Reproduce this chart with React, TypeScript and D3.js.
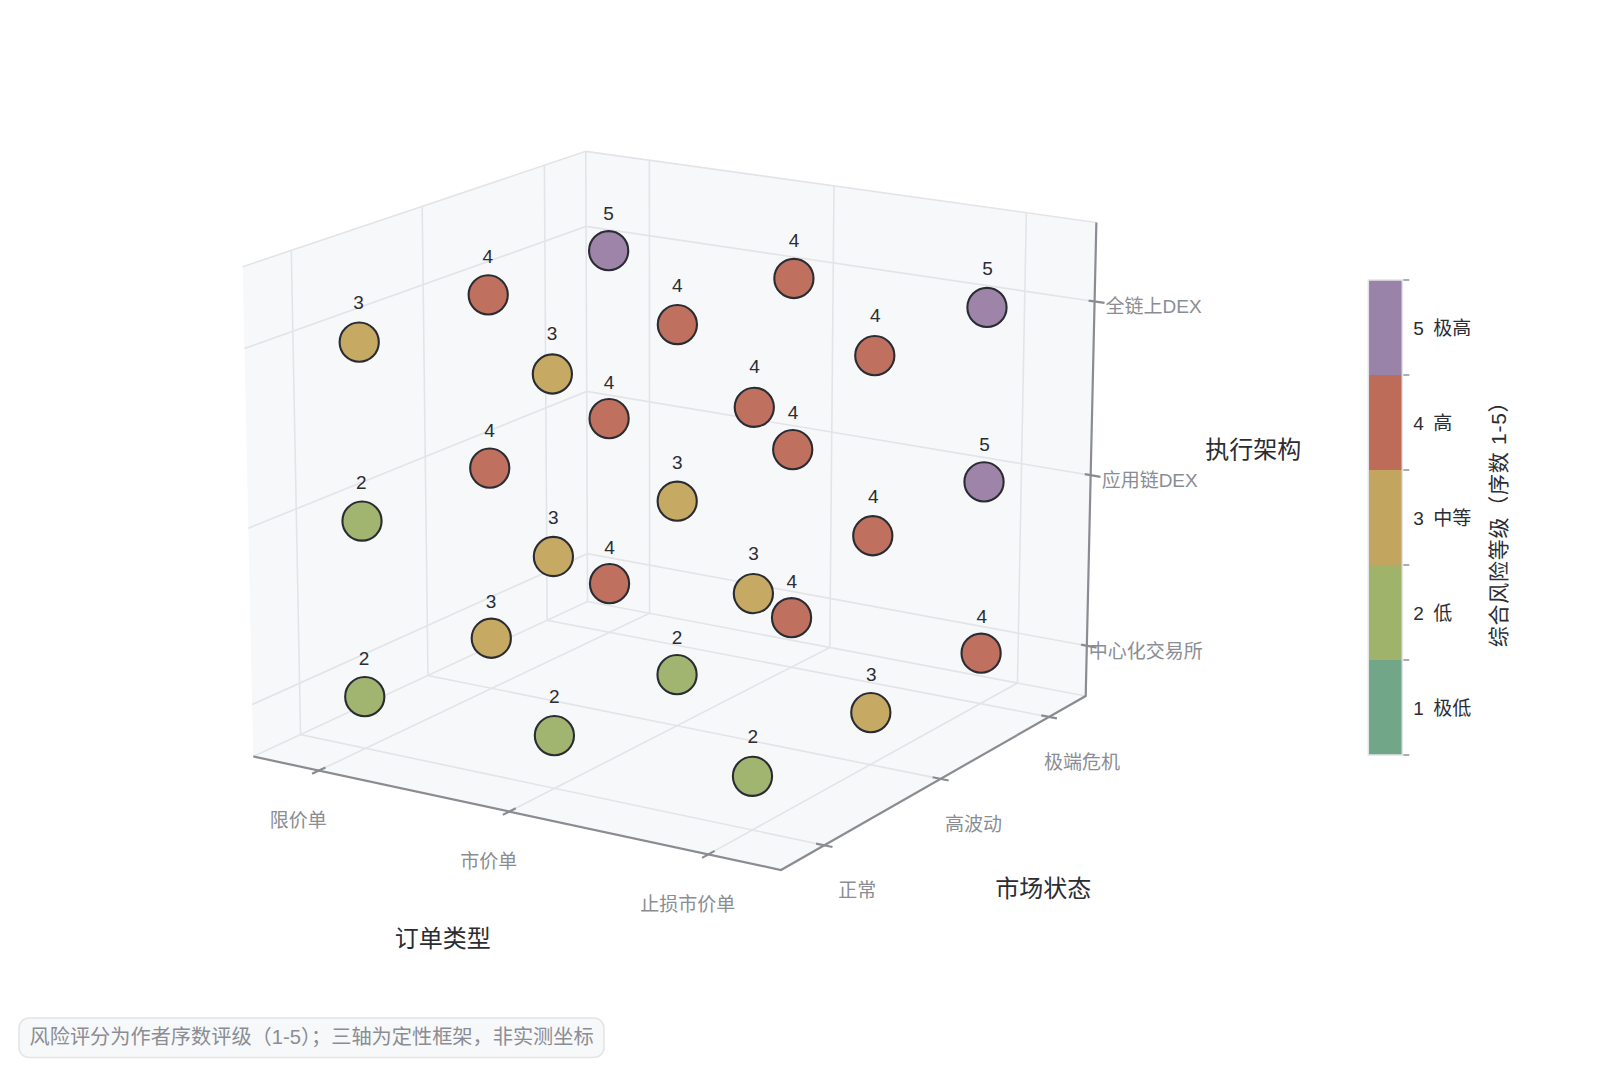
import React, { useEffect, useRef } from 'react';
import * as d3 from 'd3';

const WIDTH = 1600;
const HEIGHT = 1078;

const orderTypes = ['限价单', '市价单', '止损市价单'];
const marketStates = ['正常', '高波动', '极端危机'];
const architectures = ['中心化交易所', '应用链DEX', '全链上DEX'];

// risk[architecture][marketState][orderType]
const riskCex = [
  [2, 2, 2],
  [3, 2, 3],
  [4, 4, 4],
];
const riskAppchain = [
  [2, 3, 3],
  [4, 3, 4],
  [4, 4, 5],
];
const riskOnchain = [
  [3, 3, 4],
  [4, 4, 4],
  [5, 4, 5],
];
const riskCube = [riskCex, riskAppchain, riskOnchain];

const riskLevels = [1, 2, 3, 4, 5];
const riskNames = ['极低', '低', '中等', '高', '极高'];
const barColors = ['#72A688', '#A0B36B', '#C2A55E', '#BD6C5A', '#9A83A8'];
const dotColors = ['#76AA8C', '#A2B570', '#C6A962', '#C0705E', '#9F84AA'];

const xLim: [number, number] = [-0.354, 2.354];
const yLim: [number, number] = [-0.354, 2.354];
const zLim: [number, number] = [-0.298, 2.449];

// where the box corners of the view land on the page, used to calibrate the camera
const cam = {
  origin: [253.3, 756.5],
  xEnd: [781, 870],
  xyEnd: [1085.7, 696],
  yEnd: [587.5, 601.5],
  zEnd: [242.7, 266.7],
  yzEnd: [585.7, 152.7],
  xyzEnd: [1096.3, 221],
};

type V3 = [number, number, number];
const h = (p: number[]): V3 => [p[0] / 1000, p[1] / 1000, 1];
const cross = (a: V3, b: V3): V3 => [
  a[1] * b[2] - a[2] * b[1],
  a[2] * b[0] - a[0] * b[2],
  a[0] * b[1] - a[1] * b[0],
];
const dot = (a: V3, b: V3) => a[0] * b[0] + a[1] * b[1] + a[2] * b[2];
const add = (a: V3, b: V3, k = 1): V3 => [a[0] + b[0] * k, a[1] + b[1] * k, a[2] + b[2] * k];
const mul = (a: V3, k: number): V3 => [a[0] * k, a[1] * k, a[2] * k];

function buildCamera() {
  const A = h(cam.origin), B = h(cam.xEnd), C = h(cam.xyEnd), D = h(cam.yEnd);
  const F = h(cam.zEnd), E = h(cam.yzEnd), G = h(cam.xyzEnd);
  // b*B + d*D - c*C = A, Cramer
  const nC = mul(C, -1);
  const det = dot(B, cross(D, nC));
  const b = dot(A, cross(D, nC)) / det;
  const d = dot(B, cross(A, nC)) / det;
  const c = dot(B, cross(D, A)) / det;
  const px = add(mul(B, b), A, -1);
  const py = add(mul(D, d), A, -1);
  // f*F - e*E = A - d*D and f*F - g*G = A - c*C, take f from each
  const r1 = add(A, D, -d);
  const r2 = add(A, C, -c);
  const fe = cross(F, E);
  const fg = cross(F, G);
  const f1 = dot(cross(r1, E), fe) / dot(fe, fe);
  const f2 = dot(cross(r2, G), fg) / dot(fg, fg);
  const f = 0.2 * f1 + 0.8 * f2;
  const pz = add(mul(F, f), A, -1);
  return { px, py, pz, p0: A };
}

const camera = buildCamera();
const ux = d3.scaleLinear().domain(xLim).range([0, 1]);
const uy = d3.scaleLinear().domain(yLim).range([0, 1]);
const uz = d3.scaleLinear().domain(zLim).range([0, 1]);

function project(x: number, y: number, z: number): [number, number] {
  const u = ux(x), v = uy(y), w = uz(z);
  const s = add(add(add(camera.p0, camera.px, u), camera.py, v), camera.pz, w);
  return [(s[0] / s[2]) * 1000, (s[1] / s[2]) * 1000];
}

const GRID = '#E3E4E8';
const AXIS = '#8A8C92';
const PANE = '#F7F8FA';
const TICK_TEXT = '#8A8D93';
const DARK = '#2B2D33';
const FONT = '"Liberation Sans", "Noto Sans CJK SC", sans-serif';

export default function App() {
  const ref = useRef<SVGSVGElement | null>(null);

  useEffect(() => {
    if (!ref.current) return;
    const svg = d3.select(ref.current);
    svg.selectAll('*').remove();
    svg.attr('font-family', FONT);

    const [x0, x1] = xLim;
    const [y0, y1] = yLim;
    const [z0, z1] = zLim;
    const line = d3.line();
    const path3 = (pts: V3[], closed = false) =>
      line(pts.map(p => project(p[0], p[1], p[2]))) + (closed ? 'Z' : '');

    // panes
    const panes: V3[][] = [
      [[x0, y0, z0], [x1, y0, z0], [x1, y1, z0], [x0, y1, z0]],
      [[x0, y0, z0], [x0, y1, z0], [x0, y1, z1], [x0, y0, z1]],
      [[x0, y1, z0], [x1, y1, z0], [x1, y1, z1], [x0, y1, z1]],
    ];
    svg.append('g').selectAll('path').data(panes).join('path')
      .attr('d', d => path3(d, true))
      .attr('fill', PANE);

    // grid and pane edges
    const gridLines: V3[][] = [];
    orderTypes.forEach((_, i) => gridLines.push([[i, y0, z0], [i, y1, z0], [i, y1, z1]]));
    marketStates.forEach((_, j) => gridLines.push([[x1, j, z0], [x0, j, z0], [x0, j, z1]]));
    architectures.forEach((_, k) => gridLines.push([[x0, y0, k], [x0, y1, k], [x1, y1, k]]));
    gridLines.push([[x0, y0, z0], [x0, y1, z0], [x1, y1, z0]]);
    gridLines.push([[x0, y1, z0], [x0, y1, z1]]);
    gridLines.push([[x0, y0, z1], [x0, y1, z1], [x1, y1, z1]]);
    svg.append('g').selectAll('path').data(gridLines).join('path')
      .attr('d', d => path3(d))
      .attr('fill', 'none')
      .attr('stroke', GRID)
      .attr('stroke-width', 1.6);

    // axis lines
    const axisLines: V3[][] = [
      [[x0, y0, z0], [x1, y0, z0], [x1, y1, z0], [x1, y1, z1]],
    ];
    svg.append('g').selectAll('path').data(axisLines).join('path')
      .attr('d', d => path3(d))
      .attr('fill', 'none')
      .attr('stroke', AXIS)
      .attr('stroke-width', 2.2);

    // ticks
    const ticks: V3[][] = [
      ...orderTypes.map((_, i): V3[] => [[i, y0 - 0.05, z0], [i, y0 + 0.05, z0]]),
      ...marketStates.map((_, j): V3[] => [[x1 - 0.04, j, z0], [x1 + 0.04, j, z0]]),
      ...architectures.map((_, k): V3[] => [[x1 - 0.03, y1, k], [x1 + 0.05, y1, k]]),
    ];
    svg.append('g').selectAll('path').data(ticks).join('path')
      .attr('d', d => path3(d))
      .attr('stroke', AXIS)
      .attr('stroke-width', 2.2);

    // tick labels
    const tickLabel = (text: string, p: [number, number], dx: number, dy: number) => {
      svg.append('text')
        .attr('x', p[0] + dx)
        .attr('y', p[1] + dy)
        .attr('dy', '0.36em')
        .attr('text-anchor', 'middle')
        .attr('font-size', 19)
        .attr('fill', TICK_TEXT)
        .text(text);
    };
    orderTypes.forEach((t, i) => tickLabel(t, project(i, y0, z0), -20.5, 50));
    marketStates.forEach((t, j) => tickLabel(t, project(x1, j, z0), 33, 45));
    architectures.forEach((t, k) => tickLabel(t, project(x1, y1, k), 59, 5));

    // axis titles
    const axisTitles: [string, number, number][] = [
      ['订单类型', 442.7, 938.5],
      ['市场状态', 1043.3, 888.3],
      ['执行架构', 1253.3, 449.5],
    ];
    svg.append('g').selectAll('text').data(axisTitles).join('text')
      .attr('x', d => d[1])
      .attr('y', d => d[2])
      .attr('dy', '0.36em')
      .attr('text-anchor', 'middle')
      .attr('font-size', 24)
      .attr('fill', DARK)
      .text(d => d[0]);

    // points
    const points: { x: number; y: number; z: number; v: number }[] = [];
    riskCube.forEach((plane, z) =>
      plane.forEach((row, y) => row.forEach((v, x) => points.push({ x, y, z, v })))
    );
    const color = d3.scaleOrdinal<number, string>().domain(riskLevels).range(dotColors);
    const dots = svg.append('g');
    dots.selectAll('circle').data(points).join('circle')
      .attr('cx', d => project(d.x, d.y, d.z)[0])
      .attr('cy', d => project(d.x, d.y, d.z)[1])
      .attr('r', 19.6)
      .attr('fill', d => color(d.v))
      .attr('stroke', '#2A2C33')
      .attr('stroke-width', 2.1);
    dots.selectAll('text').data(points).join('text')
      .attr('x', d => project(d.x, d.y, d.z + 0.22)[0])
      .attr('y', d => project(d.x, d.y, d.z + 0.22)[1])
      .attr('dy', '0.36em')
      .attr('text-anchor', 'middle')
      .attr('font-size', 19)
      .attr('fill', DARK)
      .text(d => d.v);

    // colorbar
    const barX = 1368.3;
    const barW = 34;
    const barY = d3.scaleLinear().domain([0.5, 5.5]).range([755, 280]);
    const bar = svg.append('g');
    bar.selectAll('rect').data(riskLevels).join('rect')
      .attr('x', barX)
      .attr('width', barW)
      .attr('y', d => barY(d + 0.5))
      .attr('height', d => barY(d - 0.5) - barY(d + 0.5))
      .attr('fill', (_, i) => barColors[i]);
    bar.append('rect')
      .attr('x', barX)
      .attr('y', barY(5.5))
      .attr('width', barW)
      .attr('height', barY(0.5) - barY(5.5))
      .attr('fill', 'none')
      .attr('stroke', GRID)
      .attr('stroke-width', 1.5);
    bar.selectAll('line').data(d3.range(0.5, 6, 1)).join('line')
      .attr('x1', barX + barW + 1)
      .attr('x2', barX + barW + 7)
      .attr('y1', d => barY(d))
      .attr('y2', d => barY(d))
      .attr('stroke', AXIS)
      .attr('stroke-width', 1.4);
    bar.selectAll('text').data(riskLevels).join('text')
      .attr('x', barX + barW + 11)
      .attr('y', d => barY(d) + 1)
      .attr('dy', '0.36em')
      .attr('font-size', 19)
      .attr('word-spacing', 4)
      .attr('fill', DARK)
      .text((d, i) => `${d} ${riskNames[i]}`);
    svg.append('text')
      .attr('transform', 'translate(1498,519) rotate(-90)')
      .attr('dy', '0.36em')
      .attr('text-anchor', 'middle')
      .attr('font-size', 21)
      .attr('letter-spacing', 0.75)
      .attr('fill', DARK)
      .text('综合风险等级（序数 1-5）');

    // footnote
    svg.append('rect')
      .attr('x', 19)
      .attr('y', 1018)
      .attr('width', 585)
      .attr('height', 39.5)
      .attr('rx', 10)
      .attr('fill', PANE)
      .attr('stroke', GRID)
      .attr('stroke-width', 1.5);
    svg.append('text')
      .attr('x', 29.5)
      .attr('y', 1036.5)
      .attr('dy', '0.36em')
      .attr('font-size', 20.2)
      .attr('fill', TICK_TEXT)
      .text('风险评分为作者序数评级（1-5）；三轴为定性框架，非实测坐标');
  }, []);

  return (
    <svg
      ref={ref}
      width={WIDTH}
      height={HEIGHT}
      viewBox={`0 0 ${WIDTH} ${HEIGHT}`}
      style={{ position: 'absolute', left: 0, top: 0, display: 'block', background: '#fff' }}
    />
  );
}
